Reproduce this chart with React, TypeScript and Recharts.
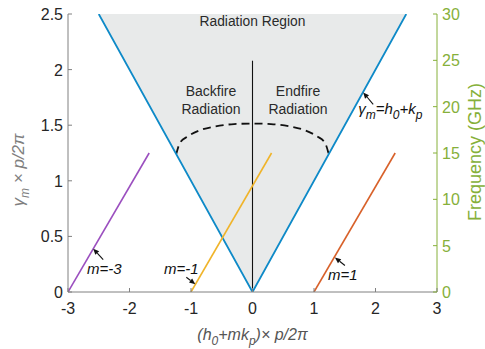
import React from 'react';
import { ComposedChart, Line, Area, XAxis, YAxis, ReferenceDot } from 'recharts';

// axis ticks
const xTicks = [-3, -2, -1, 0, 1, 2, 3];
const yTicks = [0, 0.5, 1, 1.5, 2, 2.5];
const freqTicks = [0, 5, 10, 15, 20, 25, 30];

// light line y = |x| bounding the radiation region
const edgeX = [-2.5, 0, 2.5];
const edgeY = [2.5, 0, 2.5];

// space harmonics
const m3X = [-3, -1.68];
const m3Y = [0, 1.25];
const m1nX = [-1, 0.31];
const m1nY = [0, 1.25];
const m1X = [1, 2.32];
const m1Y = [0, 1.25];

// broadside divider
const midX = [0, 0];
const midY = [0, 2.08];

// dashed arc
const arcX = [-1.24, -1.18, -1.05, -0.85, -0.6, -0.3, 0, 0.3, 0.6, 0.85, 1.05, 1.18, 1.24];
const arcY = [1.24, 1.34, 1.4, 1.455, 1.49, 1.51, 1.515, 1.51, 1.49, 1.455, 1.4, 1.34, 1.24];

const pts = (xs: number[], ys: number[]) => xs.map((x, i) => ({ x, y: ys[i] }));
const regionData = edgeX.map((x, i) => ({ x, r: [edgeY[i], 2.5] }));

const FONT = '"Liberation Sans", Arial, sans-serif';
const AXIS = '#808080';
const GREEN = '#86b03a';

// text with subscripts: segments flagged true are lowered
const rich = (segs: [string, boolean][], subSize = 12) => {
  let low = false;
  return segs.map(([s, isSub], i) => {
    const dy = isSub === low ? 0 : isSub ? 5 : -5;
    low = isSub;
    return (
      <tspan key={i} dy={dy} fontSize={isSub ? subSize : undefined}>
        {s}
      </tspan>
    );
  });
};

const BottomTick = ({ x, y, payload }: any) => (
  <g>
    <line x1={x} x2={x} y1={y} y2={y - 4} stroke={AXIS} />
    <text x={x} y={y + 22} textAnchor="middle" fontSize={16} fill="#262626" fontFamily={FONT}>
      {payload.value}
    </text>
  </g>
);

const TopTick = ({ x, y }: any) => <line x1={x} x2={x} y1={y} y2={y + 4} stroke={AXIS} />;

const LeftTick = ({ x, y, payload }: any) => (
  <g>
    <line x1={x} x2={x + 4} y1={y} y2={y} stroke={AXIS} />
    <text x={x - 5} y={y + 6} textAnchor="end" fontSize={16} fill="#262626" fontFamily={FONT}>
      {payload.value}
    </text>
  </g>
);

const RightTick = ({ x, y, payload }: any) => (
  <g>
    <line x1={x} x2={x - 4} y1={y} y2={y} stroke={GREEN} />
    <text x={x + 5} y={y + 6} textAnchor="start" fontSize={16} fill={GREEN} fontFamily={FONT}>
      {payload.value}
    </text>
  </g>
);

// arrow from (cx+dx, cy+dy) to the tip (cx, cy) with a text note
const note = (dx: number, dy: number, tx: number, ty: number, anchor: string, content: React.ReactNode) =>
  (p: any) => {
    const { cx, cy } = p;
    const len = Math.hypot(dx, dy);
    const ux = dx / len;
    const uy = dy / len;
    const hl = 6;
    const hw = 2.6;
    const bx = cx + ux * hl;
    const by = cy + uy * hl;
    return (
      <g>
        <line x1={cx + dx} y1={cy + dy} x2={bx} y2={by} stroke="#111" strokeWidth={1.1} />
        <polygon
          points={`${cx},${cy} ${bx - uy * hw},${by + ux * hw} ${bx + uy * hw},${by - ux * hw}`}
          fill="#111"
        />
        <text x={cx + tx} y={cy + ty} textAnchor={anchor as any} fontSize={15} fontStyle="italic" fill="#111" fontFamily={FONT}>
          {content}
        </text>
      </g>
    );
  };

const textAt = (lines: string[], size: number) => (p: any) => (
  <text x={p.cx} y={p.cy} textAnchor="middle" fontSize={size} fill="#2a2a2a" fontFamily={FONT}>
    {lines.map((l, i) => (
      <tspan key={i} x={p.cx} dy={i === 0 ? 0 : 18}>
        {l}
      </tspan>
    ))}
  </text>
);

const XTitle = ({ viewBox }: any) => (
  <text
    x={viewBox.x + viewBox.width / 2}
    y={viewBox.y + 48}
    textAnchor="middle"
    fontSize={16}
    fontStyle="italic"
    fill="#555"
    fontFamily={FONT}
  >
    {rich([['(h', false], ['0', true], ['+mk', false], ['p', true], [')× p/2π', false]])}
  </text>
);

const YTitle = () => (
  <text
    x={0}
    y={0}
    transform="translate(24,170) rotate(-90)"
    textAnchor="middle"
    fontSize={17}
    fontStyle="italic"
    fill="#808080"
    fontFamily={FONT}
  >
    {rich([['γ', false], ['m', true], [' × p/2π', false]])}
  </text>
);

const FreqTitle = () => (
  <text
    x={0}
    y={0}
    transform="translate(481,152) rotate(-90)"
    textAnchor="middle"
    fontSize={18}
    fill={GREEN}
    fontFamily={FONT}
  >
    Frequency (GHz)
  </text>
);

export default function App() {
  return (
    <div style={{ position: 'absolute', left: 0, top: 0, width: 485, height: 349, background: '#fff' }}>
      <ComposedChart width={485} height={349} margin={{ top: 14, right: 0, bottom: 0, left: 0 }}>
        <XAxis
          xAxisId="b"
          type="number"
          dataKey="x"
          domain={[-3, 3]}
          ticks={xTicks}
          interval={0}
          height={57}
          stroke={AXIS}
          tickSize={0}
          tickMargin={0}
          tickLine={false}
          tick={<BottomTick />}
          allowDataOverflow
          label={{ content: XTitle } as any}
        />
        <XAxis
          xAxisId="t"
          orientation="top"
          type="number"
          domain={[-3, 3]}
          ticks={xTicks}
          interval={0}
          height={0}
          stroke={AXIS}
          tickSize={0}
          tickMargin={0}
          tickLine={false}
          tick={<TopTick />}
          allowDataOverflow
        />
        <YAxis
          yAxisId="l"
          type="number"
          domain={[0, 2.5]}
          ticks={yTicks}
          interval={0}
          width={68}
          stroke={AXIS}
          tickSize={0}
          tickMargin={0}
          tickLine={false}
          tick={<LeftTick />}
          allowDataOverflow
        />
        <YAxis
          yAxisId="r"
          orientation="right"
          type="number"
          domain={[0, 30]}
          ticks={freqTicks}
          interval={0}
          width={48}
          stroke={GREEN}
          tickSize={0}
          tickMargin={0}
          tickLine={false}
          tick={<RightTick />}
          allowDataOverflow
        />

        <Area
          xAxisId="b"
          yAxisId="l"
          data={regionData}
          dataKey="r"
          type="linear"
          stroke="none"
          fill="#e8eaea"
          fillOpacity={1}
          isAnimationActive={false}
        />
        <Line xAxisId="b" yAxisId="l" data={pts(midX, midY)} dataKey="y" stroke="#111" strokeWidth={1.1} dot={false} isAnimationActive={false} />
        <Line xAxisId="b" yAxisId="l" data={pts(arcX, arcY)} dataKey="y" type="monotone" stroke="#111" strokeWidth={1.8} strokeDasharray="8 5" dot={false} isAnimationActive={false} />
        <Line xAxisId="b" yAxisId="l" data={pts(edgeX, edgeY)} dataKey="y" type="linear" stroke="#0e8ac8" strokeWidth={1.8} dot={false} isAnimationActive={false} />
        <Line xAxisId="b" yAxisId="l" data={pts(m3X, m3Y)} dataKey="y" stroke="#9b4fbf" strokeWidth={1.6} dot={false} isAnimationActive={false} />
        <Line xAxisId="b" yAxisId="l" data={pts(m1nX, m1nY)} dataKey="y" stroke="#f0b42a" strokeWidth={1.6} dot={false} isAnimationActive={false} />
        <Line xAxisId="b" yAxisId="l" data={pts(m1X, m1Y)} dataKey="y" stroke="#d8612a" strokeWidth={1.6} dot={false} isAnimationActive={false} />

        <ReferenceDot xAxisId="b" yAxisId="l" x={0} y={2.395} r={0} ifOverflow="visible" shape={textAt(['Radiation Region'], 13.8)} />
        <ReferenceDot xAxisId="b" yAxisId="l" x={-0.675} y={1.765} r={0} ifOverflow="visible" shape={textAt(['Backfire', 'Radiation'], 14)} />
        <ReferenceDot xAxisId="b" yAxisId="l" x={0.74} y={1.765} r={0} ifOverflow="visible" shape={textAt(['Endfire', 'Radiation'], 14)} />

        <ReferenceDot xAxisId="b" yAxisId="l" x={-2.59} y={0.39} r={0} ifOverflow="visible" shape={note(10, 11, 11, 25, 'middle', 'm=-3')} />
        <ReferenceDot xAxisId="b" yAxisId="l" x={-0.93} y={0.07} r={0} ifOverflow="visible" shape={note(-9, -7, -14, -10, 'middle', 'm=-1')} />
        <ReferenceDot xAxisId="b" yAxisId="l" x={1.34} y={0.31} r={0} ifOverflow="visible" shape={note(10, 8, 8, 22, 'middle', 'm=1')} />
        <ReferenceDot
          xAxisId="b"
          yAxisId="l"
          x={1.8}
          y={1.795}
          r={0}
          ifOverflow="visible"
          shape={note(10, 12, -5, 22, 'start', rich([['γ', false], ['m', true], ['=h', false], ['0', true], ['+k', false], ['p', true]]))}
        />
      </ComposedChart>
      <svg width={485} height={349} style={{ position: 'absolute', left: 0, top: 0, pointerEvents: 'none' }}>
        <YTitle />
        <FreqTitle />
      </svg>
    </div>
  );
}
